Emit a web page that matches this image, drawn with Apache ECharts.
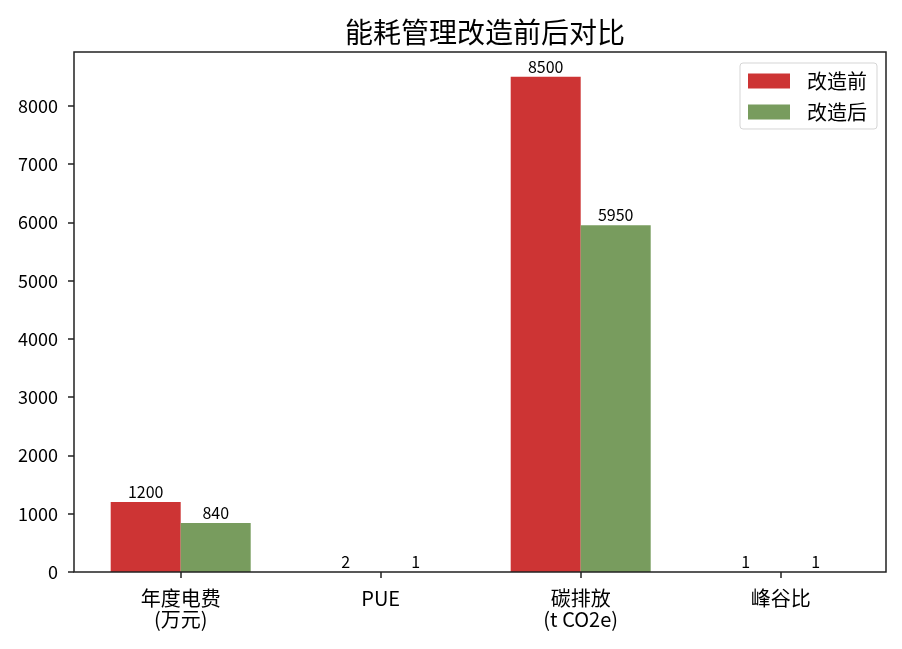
<!DOCTYPE html>
<html><head><meta charset="utf-8">
<script src="https://cdn.jsdelivr.net/npm/echarts@6/dist/echarts.min.js"></script>
<style>html,body{margin:0;padding:0;background:#fff}#c{width:902px;height:649px}</style>
</head><body><div id="c"></div>
<script>
var categories = ['年度电费\n(万元)', 'PUE', '碳排放\n(t CO2e)', '峰谷比'];
var before = [1200, 1.8, 8500, 1.2];
var after = [840, 1.3, 5950, 0.8];
var seriesNames = ['改造前', '改造后'];
var yTicks = [0, 1000, 2000, 3000, 4000, 5000, 6000, 7000, 8000];
var yMax = 8925;
var font = '"Noto Sans CJK SC", "DejaVu Sans", sans-serif';

var chart = echarts.init(document.getElementById('c'));
function lbl(p){ return String(Math.round(p.value)); }
chart.setOption({
  animation: false,
  title: { text: '能耗管理改造前后对比', left: 480, top: 13, textAlign: 'center',
    textStyle: { fontFamily: font, fontSize: 28, fontWeight: 'normal', color: '#000' } },
  legend: {
    right: 25, top: 63, orient: 'vertical', icon: 'rect', itemWidth: 42, itemHeight: 15, itemGap: 11,
    padding: [8, 10, 7, 8], borderColor: '#d5d5d5', borderWidth: 1, borderRadius: 3,
    backgroundColor: '#fff',
    textStyle: { fontFamily: font, fontSize: 20, color: '#000', padding: [0, 0, 0, 12] },
    data: seriesNames
  },
  grid: { left: 80.7, right: 21.3, top: 52, bottom: 77 },
  graphic: [{ type: 'rect', shape: { x: 74, y: 52, width: 812, height: 520 }, z: 100,
    style: { fill: 'none', stroke: '#222', lineWidth: 1.5 }, silent: true }],
  xAxis: {
    type: 'category', data: categories,
    axisLine: { show: false },
    axisTick: { show: true, alignWithLabel: true, length: 6, lineStyle: { color: '#222', width: 1.5 } },
    axisLabel: { fontFamily: font, fontSize: 20, color: '#000', margin: 16, lineHeight: 21 }
  },
  yAxis: {
    type: 'value', min: 0, max: yMax, offset: 6.7,
    splitLine: { show: false },
    axisLine: { show: false },
    axisTick: { show: true, length: 6, customValues: yTicks, lineStyle: { color: '#222', width: 1.5 } },
    axisLabel: { fontFamily: font, fontSize: 18, color: '#000', margin: 16, customValues: yTicks,
      formatter: function(v){ return String(v); } }
  },
  series: [
    { name: seriesNames[0], type: 'bar', data: before, barWidth: 70, barGap: '0%',
      itemStyle: { color: '#cd3434' },
      label: { show: true, position: 'top', distance: 2, fontFamily: font, fontSize: 16, color: '#000', formatter: lbl } },
    { name: seriesNames[1], type: 'bar', data: after, barWidth: 70, barGap: '0%',
      itemStyle: { color: '#789c5e' },
      label: { show: true, position: 'top', distance: 2, fontFamily: font, fontSize: 16, color: '#000', formatter: lbl } }
  ]
});
</script></body></html>
